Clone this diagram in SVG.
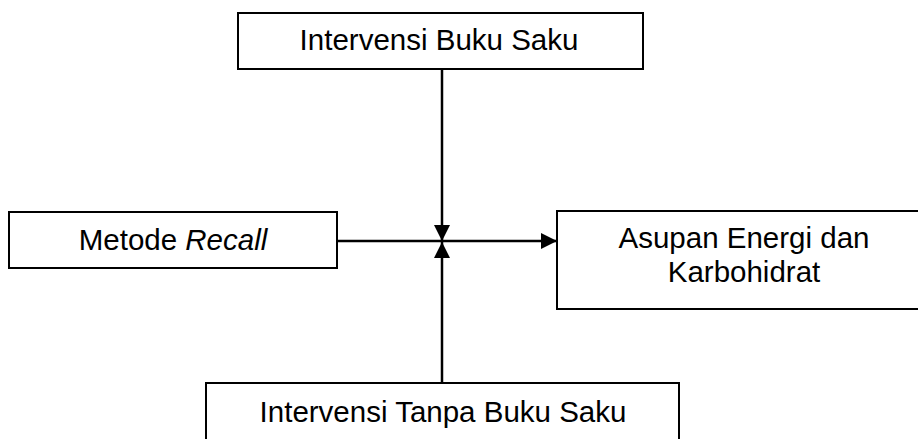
<svg xmlns="http://www.w3.org/2000/svg" width="918" height="439" viewBox="0 0 918 439">
<style>
.box{fill:#fff;stroke:#000;stroke-width:2}
.t{font-family:"Liberation Sans",Arial,sans-serif;font-size:29.5px;fill:#000;text-anchor:middle}
.c{stroke:#000;stroke-width:2.5;fill:none}
</style>
<defs>
<marker id="ah" markerWidth="16" markerHeight="16" viewBox="0 0 16 16" refX="16" refY="8" orient="auto" markerUnits="userSpaceOnUse">
<path d="M0,0 L16,8 L0,16 Z" fill="#000"/>
</marker>
</defs>
<rect width="918" height="439" fill="#fff"/>
<g id="connectors">
<line class="c" x1="442" y1="69" x2="442" y2="241" marker-end="url(#ah)"/>
<line class="c" x1="442" y1="383" x2="442" y2="242" marker-end="url(#ah)"/>
<line class="c" x1="337" y1="241" x2="557" y2="241" marker-end="url(#ah)"/>
</g>
<g id="node-buku-saku">
<rect class="box" x="238" y="13" width="405" height="56"/>
<text class="t" x="439" y="50">Intervensi Buku Saku</text>
</g>
<g id="node-recall">
<rect class="box" x="9" y="212" width="328" height="56"/>
<text class="t" x="173" y="250">Metode <tspan font-style="italic">Recall</tspan></text>
</g>
<g id="node-asupan">
<rect class="box" x="557" y="211" width="375" height="98"/>
<text class="t" x="744" y="248">Asupan Energi dan</text>
<text class="t" x="744" y="282">Karbohidrat</text>
</g>
<g id="node-tanpa">
<rect class="box" x="206" y="383" width="473" height="70"/>
<text class="t" x="443" y="422">Intervensi Tanpa Buku Saku</text>
</g>
</svg>
